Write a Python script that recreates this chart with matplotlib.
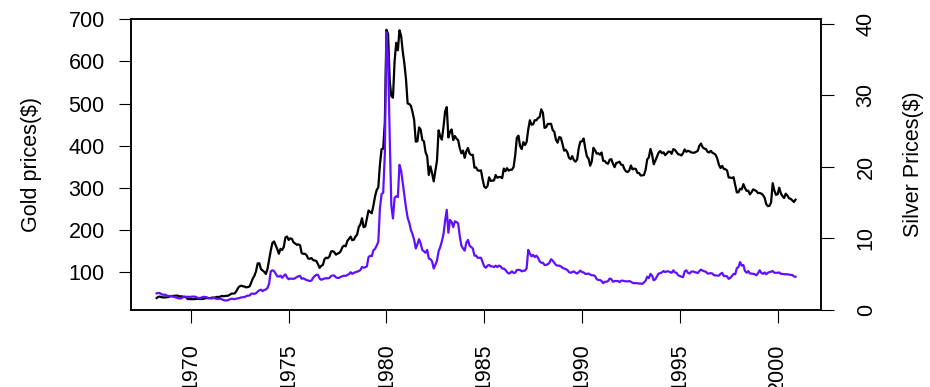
import numpy as np
import matplotlib
matplotlib.use("Agg")
import matplotlib.pyplot as plt

plt.rcParams['font.family'] = ['Liberation Sans', 'DejaVu Sans']

# monthly averages, April 1968 .. December 2000
start_year = 1968
start_month = 4

gold_prices = [
    37.7, 40.6, 41.1, 39.5, 39.2, 39.1, 39.4, 40.0, 41.1,                   # 1968
    42.3, 42.6, 43.2, 43.3, 43.5, 41.3, 42.0, 41.0, 40.9, 40.4, 35.4, 35.2,  # 1969
    34.9, 35.0, 35.1, 35.6, 35.9, 35.4, 35.3, 35.4, 36.2, 37.5, 37.4, 37.4,  # 1970
    37.9, 38.7, 38.9, 39.0, 40.5, 40.1, 41.0, 42.7, 42.0, 42.5, 42.9, 43.5,  # 1971
    45.8, 48.3, 48.3, 49.0, 54.6, 62.1, 65.7, 67.0, 65.5, 64.9, 62.9, 63.9,  # 1972
    65.1, 74.2, 84.4, 90.5, 102.0, 120.1, 120.2, 106.8, 103.0, 100.1, 94.8, 106.7,
    129.2, 150.2, 168.4, 172.2, 163.3, 154.1, 143.0, 154.6, 151.8, 158.8, 181.7, 183.9,
    175.8, 179.6, 178.2, 169.9, 167.4, 164.2, 165.1, 163.1, 144.3, 142.8, 142.8, 139.3,
    131.6, 131.0, 132.7, 127.9, 126.8, 125.8, 117.9, 109.3, 114.3, 116.3, 130.4, 133.6,
    132.4, 136.4, 148.3, 149.3, 146.6, 140.7, 143.4, 144.8, 149.6, 158.9, 162.2, 160.5,
    173.4, 178.2, 183.7, 175.1, 176.3, 183.7, 188.7, 206.4, 212.4, 227.3, 206.0, 207.8,
    227.2, 245.7, 242.1, 239.2, 257.5, 279.1, 294.4, 300.8, 355.1, 391.7, 392.5, 455.1,
    675.3, 665.3, 553.6, 517.4, 513.8, 600.7, 644.3, 626.5, 674.0, 661.1, 623.5, 594.9,
    557.4, 500.0, 498.9, 494.5, 479.8, 460.8, 409.3, 410.2, 443.2, 437.8, 413.4, 410.1,
    384.4, 374.2, 330.2, 350.5, 333.9, 314.9, 339.1, 364.4, 436.2, 422.2, 414.1, 444.3,
    481.2, 491.4, 419.2, 432.8, 438.4, 412.9, 422.7, 416.5, 412.6, 393.4, 381.7, 388.0,
    370.9, 386.2, 394.3, 381.2, 377.6, 378.1, 347.5, 348.0, 341.1, 340.2, 341.2, 320.2,
    302.7, 299.1, 303.9, 324.7, 316.1, 316.8, 317.3, 329.9, 323.7, 325.3, 325.3, 322.5,
    345.4, 339.0, 346.4, 340.4, 342.6, 342.6, 348.8, 376.8, 418.3, 423.6, 398.6, 391.6,
    408.3, 401.3, 408.5, 438.3, 460.2, 449.6, 450.5, 460.3, 460.2, 465.5, 467.6, 486.3,
    477.8, 442.0, 443.6, 451.6, 451.3, 451.7, 436.9, 432.8, 413.6, 406.8, 420.2, 418.8,
    404.0, 388.0, 390.2, 384.1, 371.0, 367.6, 375.0, 365.4, 361.8, 366.8, 394.3, 409.4,
    410.1, 416.8, 393.1, 374.3, 369.1, 352.3, 362.5, 394.7, 389.2, 380.8, 381.7, 378.2,
    383.6, 363.8, 363.3, 358.4, 356.8, 366.7, 367.7, 356.4, 348.7, 358.7, 359.7, 361.7,
    354.5, 353.9, 344.3, 338.6, 337.2, 340.8, 352.7, 343.4, 345.4, 344.4, 335.0, 334.8,
    329.0, 329.3, 330.1, 342.2, 367.2, 371.9, 392.0, 378.8, 355.5, 364.2, 373.8, 383.3,
    387.0, 382.0, 384.0, 377.3, 381.1, 385.6, 385.5, 380.4, 391.6, 389.8, 384.4, 379.3,
    378.6, 376.5, 382.1, 391.0, 385.2, 387.6, 386.2, 383.7, 383.1, 383.1, 385.3, 387.4,
    399.5, 404.8, 396.2, 392.8, 391.9, 385.3, 383.5, 387.5, 383.1, 381.1, 377.9, 369.0,
    354.5, 346.6, 351.8, 344.5, 343.8, 340.8, 324.1, 324.0, 322.8, 324.9, 306.0, 288.7,
    289.1, 297.5, 295.9, 308.4, 299.1, 292.3, 292.9, 284.1, 289.0, 295.9, 294.1, 291.6,
    287.1, 287.3, 285.9, 282.6, 276.4, 261.3, 256.1, 256.7, 264.7, 310.7, 293.2, 283.0,
    284.3, 299.9, 286.4, 280.0, 275.3, 285.7, 281.6, 274.5, 273.7, 270.0, 266.0, 271.5,
]

silver_prices = [
    2.32, 2.38, 2.35, 2.20, 2.12, 2.15, 2.05, 1.95, 1.97,                   # 1968
    1.95, 1.87, 1.82, 1.73, 1.66, 1.62, 1.62, 1.79, 1.80, 1.80, 1.86, 1.82,  # 1969
    1.85, 1.87, 1.87, 1.84, 1.70, 1.68, 1.69, 1.79, 1.84, 1.81, 1.76, 1.63,
    1.64, 1.62, 1.68, 1.62, 1.55, 1.56, 1.60, 1.49, 1.38, 1.34, 1.33, 1.39,
    1.51, 1.57, 1.55, 1.52, 1.60, 1.63, 1.70, 1.76, 1.78, 1.82, 1.94, 2.01,
    2.02, 2.25, 2.31, 2.25, 2.35, 2.58, 2.76, 2.83, 2.63, 2.80, 2.86, 3.08,
    3.68, 5.40, 5.55, 5.45, 5.10, 4.70, 4.68, 4.80, 4.50, 4.78, 4.98, 4.55,
    4.30, 4.40, 4.38, 4.35, 4.45, 4.62, 4.70, 4.78, 4.36, 4.44, 4.30, 4.18,
    4.12, 4.05, 4.12, 4.50, 4.75, 4.93, 4.90, 4.40, 4.22, 4.32, 4.40, 4.45,
    4.42, 4.48, 4.75, 4.82, 4.82, 4.56, 4.48, 4.50, 4.64, 4.72, 4.80, 4.77,
    4.90, 5.00, 5.28, 5.05, 5.20, 5.28, 5.35, 5.45, 5.58, 6.02, 5.90, 5.98,
    6.10, 7.40, 7.58, 7.52, 8.35, 8.55, 9.00, 9.55, 14.2, 16.2, 16.4, 21.8,
    38.8, 35.1, 24.3, 14.6, 12.8, 15.7, 15.9, 15.8, 20.3, 19.5, 17.8, 16.2,
    14.3, 12.9, 12.2, 11.2, 10.6, 9.8, 8.6, 9.2, 9.9, 9.3, 8.4, 8.2,
    8.0, 8.4, 7.2, 7.1, 6.8, 5.8, 6.3, 6.9, 8.2, 8.8, 9.6, 10.6,
    12.5, 14.0, 10.8, 12.6, 12.3, 11.6, 12.4, 12.3, 12.1, 10.3, 9.0, 8.6,
    8.3, 9.4, 9.8, 9.0, 8.8, 8.6, 7.6, 7.6, 7.3, 7.3, 7.3, 6.7,
    6.1, 5.9, 6.2, 6.3, 6.1, 6.1, 6.0, 6.2, 6.0, 6.2, 6.1, 5.8,
    5.8, 5.6, 5.3, 5.1, 5.2, 5.4, 5.2, 5.2, 5.6, 5.6, 5.6, 5.4,
    5.5, 5.5, 5.8, 8.4, 7.9, 7.5, 7.7, 7.4, 7.6, 7.3, 6.8, 6.6,
    6.6, 6.3, 6.3, 6.4, 6.6, 7.1, 6.9, 6.6, 6.3, 6.2, 6.2, 6.1,
    5.9, 5.8, 5.7, 5.6, 5.3, 5.2, 5.3, 5.4, 5.2, 5.1, 5.3, 5.5,
    5.30, 5.25, 5.05, 5.05, 5.10, 4.95, 4.85, 4.85, 4.75, 4.30, 4.20, 4.20,
    4.05, 3.75, 3.95, 3.95, 4.05, 4.40, 4.30, 3.95, 4.05, 4.05, 4.05, 3.90,
    4.10, 4.10, 4.05, 4.00, 4.00, 4.05, 3.95, 3.80, 3.75, 3.75, 3.75, 3.70,
    3.70, 3.65, 3.85, 4.10, 4.65, 4.45, 5.05, 4.80, 4.15, 4.30, 4.70, 5.10,
    5.15, 5.25, 5.45, 5.30, 5.40, 5.40, 5.30, 5.20, 5.55, 5.25, 5.20, 4.85,
    4.75, 4.65, 4.60, 5.40, 5.55, 5.20, 5.10, 5.35, 5.40, 5.30, 5.25, 5.15,
    5.45, 5.65, 5.50, 5.40, 5.35, 5.10, 5.10, 5.15, 5.10, 4.85, 4.85, 4.80,
    4.80, 5.05, 5.20, 4.75, 4.75, 4.70, 4.35, 4.50, 4.75, 5.05, 5.00, 5.85,
    6.00, 6.70, 6.20, 6.30, 5.45, 5.20, 5.45, 5.10, 5.10, 5.05, 5.00, 4.85,
    5.15, 5.55, 5.20, 5.05, 5.25, 5.00, 5.20, 5.30, 5.35, 5.45, 5.20, 5.20,
    5.20, 5.25, 5.05, 5.05, 5.00, 5.00, 5.00, 4.95, 4.90, 4.90, 4.70, 4.65,
]

year_ticks = [1970, 1975, 1980, 1985, 1990, 1995, 2000]
gold_ticks = [100, 200, 300, 400, 500, 600, 700]
silver_ticks = [0, 10, 20, 30, 40]

t = start_year + (start_month - 1 + np.arange(len(gold_prices))) / 12.0

fs = 15.5

fig = plt.figure(figsize=(9.3, 3.87), dpi=100)
ax = fig.add_axes([0.1409, 0.199, 0.7419, 0.752])
ax.plot(t, gold_prices, color='black', lw=1.6)
ax.set_xlim(1966.94, 2002.22)
ax.set_ylim(9.3, 700.9)
ax.set_xticks(year_ticks)
ax.set_xticklabels([str(y) for y in year_ticks], rotation=90)
ax.set_yticks(gold_ticks)
ax.tick_params(axis='both', length=9, width=0.8, labelsize=fs, direction='out')
ax.tick_params(axis='y', pad=10)
ax.tick_params(axis='x', pad=15)
ax.set_ylabel('Gold prices($)', fontsize=fs, labelpad=19)

ax2 = ax.twinx()
ax2.plot(t, silver_prices, color='#6010ff', lw=1.6)
ax2.set_ylim(0, 40.7)
ax2.set_yticks(silver_ticks)
ax2.set_yticklabels([str(s) for s in silver_ticks], rotation=90, va='center')
ax2.tick_params(axis='y', length=9, width=0.8, labelsize=fs, pad=16)
ax2.set_ylabel('Silver Prices($)', fontsize=fs, labelpad=19)

for a in (ax, ax2):
    for s in a.spines.values():
        s.set_linewidth(1.1)

plt.savefig('out.png', dpi=100)
